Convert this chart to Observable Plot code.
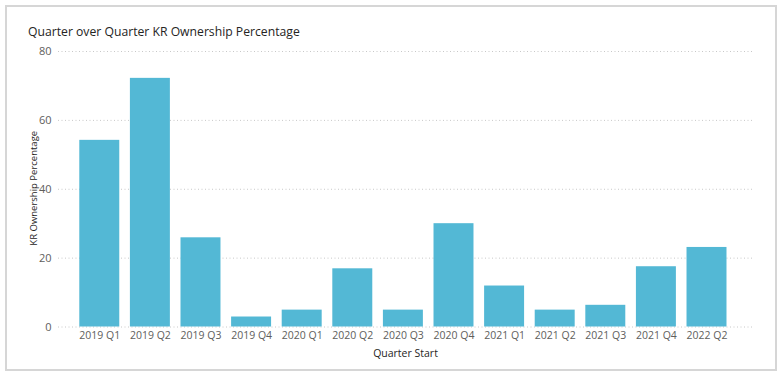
<!DOCTYPE html>
<html>
<head>
<meta charset="utf-8">
<script src="https://cdn.jsdelivr.net/npm/d3@7"></script>
<script src="https://cdn.jsdelivr.net/npm/@observablehq/plot@0.6"></script>
<style>
  html, body { margin: 0; padding: 0; background: #fff; }
  #wrap { position: relative; width: 781px; height: 377px; overflow: hidden; font-family: "Open Sans", sans-serif; }
  #frame { position: absolute; left: 5px; top: 5px; width: 768px; height: 362px; border: 2px solid #d6d6d6; box-sizing: content-box; }
  #title { position: absolute; left: 28px; top: 23px; font-size: 12.2px; color: #252423; white-space: nowrap; }
  #chart { position: absolute; left: 0; top: 0; }
</style>
</head>
<body>
<div id="wrap">
  <div id="frame"></div>
  <div id="chart"></div>
  <div id="title">Quarter over Quarter KR Ownership Percentage</div>
</div>
<script>
const quarters = ["2019 Q1","2019 Q2","2019 Q3","2019 Q4","2020 Q1","2020 Q2","2020 Q3","2020 Q4","2021 Q1","2021 Q2","2021 Q3","2021 Q4","2022 Q2"];
const ownership = [54.2, 72.2, 25.9, 2.9, 4.9, 16.9, 4.9, 30.0, 11.9, 4.9, 6.3, 17.5, 23.1];
const yTicks = [0, 20, 40, 60, 80];
const title = "Quarter over Quarter KR Ownership Percentage";
const xLabel = "Quarter Start";
const yLabel = "KR Ownership Percentage";

const data = quarters.map((q, i) => ({quarter: q, value: ownership[i]}));

const chart = Plot.plot({
  width: 781,
  height: 377,
  marginTop: 51,
  marginBottom: 50.5,
  marginLeft: 58,
  marginRight: 29,
  style: {fontFamily: "'Open Sans', sans-serif", background: "transparent"},
  x: {domain: quarters, paddingInner: 0.21, paddingOuter: 0.4625, align: 0.455, round: false, label: null},
  y: {domain: [0, 80], ticks: yTicks, label: null},
  marks: [
    Plot.gridY(yTicks, {stroke: "#c8c8c8", strokeOpacity: 1, strokeDasharray: "1,2.5"}),
    Plot.barY(data, {x: "quarter", y: "value", fill: "#53B8D5"}),
    Plot.axisY(yTicks, {tickSize: 0, tickPadding: 7, fontSize: 11, fill: "#605e5c", label: null}),
    Plot.axisX({tickSize: 0, tickPadding: 5, fontSize: 10.5, fill: "#605e5c", label: null}),
    Plot.text([xLabel], {frameAnchor: "bottom", dy: 27, fontSize: 10.5, fill: "#252423", lineAnchor: "middle"}),
    Plot.text([yLabel], {frameAnchor: "left", dx: -25, dy: -1, rotate: -90, textAnchor: "middle", fontSize: 9.5, fill: "#252423"})
  ]
});
document.getElementById("chart").appendChild(chart);
</script>
</body>
</html>
